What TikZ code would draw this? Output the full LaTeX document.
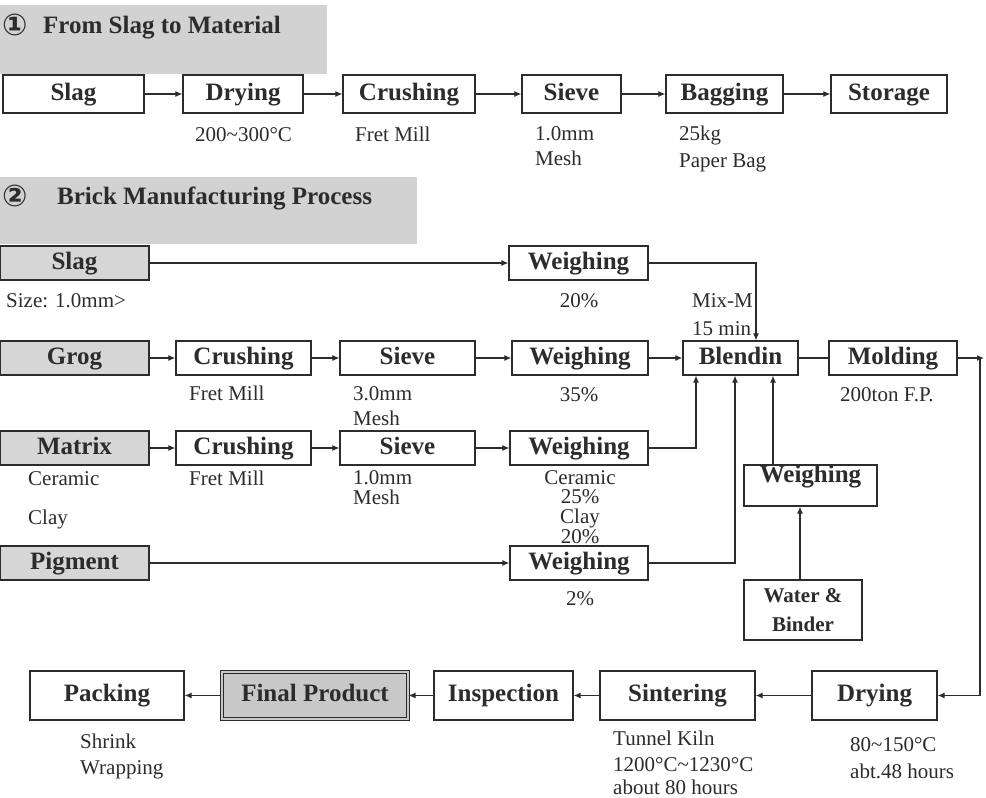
\documentclass[tikz,border=0pt]{standalone}
\usepackage{fontspec}
\setmainfont{Liberation Serif}
\newfontfamily\symf{DejaVu Sans}
\usetikzlibrary{arrows.meta,calc}
\definecolor{ink}{HTML}{2C2C2C}
\definecolor{hdrgray}{HTML}{D2D2D2}
\definecolor{boxgray}{HTML}{D6D6D6}
\definecolor{fingray}{HTML}{C8C8C8}
\newcommand\bigb{\fontsize{25}{30}\selectfont\bfseries}
\newcommand\smr{\fontsize{21}{25}\selectfont}
\begin{document}
\begin{tikzpicture}[x=1pt,y=-1pt,
  boxbase/.style={draw=ink, line width=1.3pt, fill=white, text=ink, font=\bigb, inner sep=0pt},
  box/.style={boxbase, text height=17pt, text depth=5pt},
  gbox/.style={box, fill=boxgray},
  wh/.style 2 args={minimum width=#1pt, minimum height=#2pt},
  hdr/.style={fill=hdrgray, draw=none, inner sep=0pt},
  htext/.style={anchor=base west, inner sep=0pt, text=ink, font=\bigb},
  lab/.style={anchor=base west, inner sep=0pt, text=ink, font=\smr},
  clab/.style={lab, anchor=base},
  arr/.style={draw=ink, line width=1.1pt, -{Latex[length=7pt,width=6pt]}},
  ln/.style={draw=ink, line width=1.1pt}]
\useasboundingbox[fill=white] (0,0) rectangle (986,798);

% ---------- Section 1 ----------
\node[hdr, wh={327}{69}] (h1) at (163.5,39.5) {};
\node[htext] (h1n) at (2,35) {\symf\fontsize{30}{32}\selectfont ①};
\node[htext] (h1t) at (43,33) {From Slag to Material};

\node[box, wh={141}{38}] (slag1) at (73.5,94) {Slag};
\node[box, wh={120}{38}] (dry1) at (243,94) {Drying};
\node[box, wh={132}{38}] (crush1) at (409,94) {Crushing};
\node[box, wh={99}{38}] (sieve1) at (571.5,94) {Sieve};
\node[box, wh={117}{38}] (bag1) at (724.5,94) {Bagging};
\node[box, wh={116}{38}] (stor1) at (889,94) {Storage};
\draw[arr] (slag1) -- (dry1);
\draw[arr] (dry1) -- (crush1);
\draw[arr] (crush1) -- (sieve1);
\draw[arr] (sieve1) -- (bag1);
\draw[arr] (bag1) -- (stor1);

\node[lab] (l1) at (195,141) {200\textasciitilde300°C};
\node[lab] (l2) at (355,141) {Fret Mill};
\node[lab] (l3) at (535,140) {1.0mm};
\node[lab] (l4) at (535,165) {Mesh};
\node[lab] (l5) at (679,140) {25kg};
\node[lab] (l6) at (679,167) {Paper Bag};

% ---------- Section 2 ----------
\node[hdr, wh={417}{67}] (h2) at (208.5,210.5) {};
\node[htext] (h2n) at (2,206) {\symf\fontsize{30}{32}\selectfont ②};
\node[htext] (h2t) at (57,204) {Brick Manufacturing Process};

\node[gbox, wh={149}{34}] (slag2) at (74.5,263) {Slag};
\node[gbox, wh={149}{34}] (grog) at (74.5,358) {Grog};
\node[gbox, wh={149}{34}] (matrix) at (74.5,448) {Matrix};
\node[gbox, wh={149}{34}] (pigment) at (74.5,563) {Pigment};

\node[box, wh={135}{34}] (crush2) at (243.5,358) {Crushing};
\node[box, wh={135}{34}] (sieve2) at (407.5,358) {Sieve};
\node[box, wh={135}{34}] (crush3) at (243.5,448) {Crushing};
\node[box, wh={135}{34}] (sieve3) at (407.5,448) {Sieve};

\node[box, wh={139}{34}] (wgs) at (578.5,263) {Weighing};
\node[box, wh={136}{34}] (wgg) at (580,358) {Weighing};
\node[box, wh={138}{34}] (wgm) at (579,448) {Weighing};
\node[box, wh={138}{34}] (wgp) at (579,563) {Weighing};

\node[box, wh={115}{34}] (blend) at (740.5,358) {Blendin};
\node[box, wh={128}{34}] (mold) at (893,358) {Molding};

\node[box, wh={133}{41}] (wgw) at (810.5,485.5) {};
\node[inner sep=0pt, text=ink, font=\bigb] (wgwt) at (810.5,477) {Weighing};
\node[boxbase, wh={118}{60}, align=center, font=\fontsize{21}{29}\selectfont\bfseries] (water) at (803,610) {Water \&\\Binder};

% connectors section 2
\draw[arr] (slag2) -- (wgs);
\draw[arr] (wgs.east) -| ([xshift=15.5pt]blend.north);
\draw[arr] (grog) -- (crush2);
\draw[arr] (crush2) -- (sieve2);
\draw[arr] (sieve2) -- (wgg);
\draw[arr] (wgg) -- (blend);
\draw[ln] (blend) -- (mold);
\draw[arr] (matrix) -- (crush3);
\draw[arr] (crush3) -- (sieve3);
\draw[arr] (sieve3) -- (wgm);
\draw[arr] (wgm.east) -| ([xshift=-44.5pt]blend.south);
\draw[arr] (pigment) -- (wgp);
\draw[arr] (wgp.east) -| ([xshift=-5.5pt]blend.south);
\draw[arr] ([xshift=-37.5pt]wgw.north) -- ([xshift=32.5pt]blend.south);
\draw[arr] ([xshift=-3pt]water.north) -- ([xshift=-10.5pt]wgw.south);

\coordinate (mc) at (984,358);
\coordinate (mcd) at (980,358);
\draw[arr] (mold.east) -- (mc);

% labels section 2
\node[lab] (s1) at (6,307) {Size: 1.0mm>};
\node[clab] (s2) at (579,307) {20\%};
\node[lab] (s3) at (692,307) {Mix-M};
\node[lab] (s4) at (692,335) {15 min};
\node[clab] (s5) at (579,401) {35\%};
\node[lab] (s6) at (189,400) {Fret Mill};
\node[lab] (s7) at (353,400) {3.0mm};
\node[lab] (s8) at (353,425) {Mesh};
\node[lab] (s9) at (840,401) {200ton F.P.};
\node[lab] (s10) at (28,485) {Ceramic};
\node[lab] (s11) at (28,524) {Clay};
\node[lab] (s12) at (189,485) {Fret Mill};
\node[lab] (s13) at (353,484) {1.0mm};
\node[lab] (s14) at (353,504) {Mesh};
\node[clab] (s15) at (580,484) {Ceramic};
\node[clab] (s16) at (580,503) {25\%};
\node[clab] (s17) at (580,523) {Clay};
\node[clab] (s18) at (580,543) {20\%};
\node[clab] (s19) at (580,605) {2\%};

% ---------- bottom row ----------
\node[box, wh={154}{49}] (pack) at (107,695.5) {Packing};
\node[box, fill=fingray, double=fingray, double distance=2pt, line width=1.1pt, wh={186}{47}] (final) at (315,695.5) {Final Product};
\node[box, wh={139}{49}] (insp) at (503.5,695.5) {Inspection};
\node[box, wh={155}{49}] (sint) at (677.5,695.5) {Sintering};
\node[box, wh={125}{49}] (dry2) at (874.5,695.5) {Drying};

\draw[arr] (mcd) |- (dry2.east);
\draw[arr] (dry2) -- (sint);
\draw[arr] (sint) -- (insp);
\draw[arr] (insp) -- (final);
\draw[arr] (final) -- (pack);

\node[lab] (b1) at (80,748) {Shrink};
\node[lab] (b2) at (80,774) {Wrapping};
\node[lab] (b3) at (613,745) {Tunnel Kiln};
\node[lab] (b4) at (613,771) {1200°C\textasciitilde1230°C};
\node[lab] (b5) at (613,794) {about 80 hours};
\node[lab] (b6) at (850,751) {80\textasciitilde150°C};
\node[lab] (b7) at (850,778) {abt.48 hours};
\end{tikzpicture}
\end{document}
